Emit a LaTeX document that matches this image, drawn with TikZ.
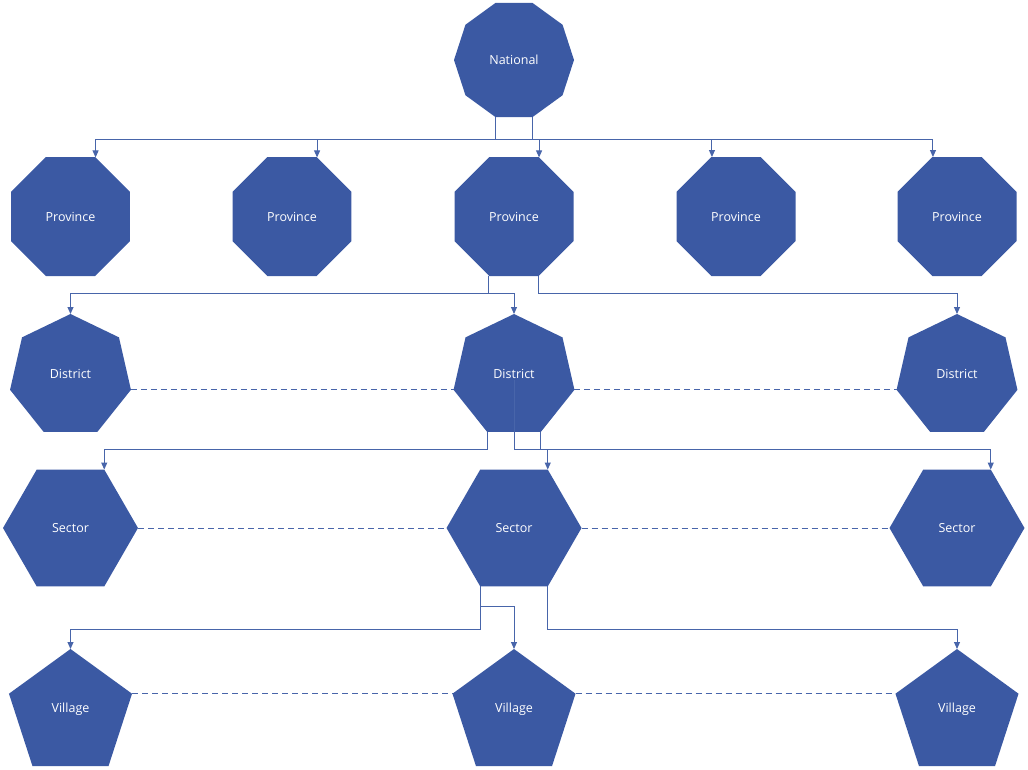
\documentclass[tikz,border=0pt]{standalone}
\usepackage{fontspec}
\setmainfont{Open Sans}
\usetikzlibrary{shapes.geometric,arrows.meta}

\definecolor{shapeblue}{RGB}{59,89,163}
\definecolor{linkblue}{RGB}{72,101,170}

\tikzset{
  unit/.style={regular polygon, fill=shapeblue, draw=none, inner sep=0pt,
    outer sep=0pt, text=white, font=\fontsize{12.5}{14}\selectfont},
  national/.style={unit, regular polygon sides=10, minimum size=120},
  province/.style={unit, regular polygon sides=8, minimum size=128.8},
  district/.style={unit, regular polygon sides=7, minimum size=124},
  sector/.style={unit, regular polygon sides=6, minimum size=135},
  village/.style={unit, regular polygon sides=5, minimum size=129.4},
  conn/.style={draw=linkblue, line width=1pt, -{Triangle[length=7pt,width=6pt]}},
  peer/.style={draw=linkblue, line width=1pt, dash pattern=on 6pt off 4pt},
}

\begin{document}
\begin{tikzpicture}[x=1pt, y=-1pt]
\useasboundingbox (0,0) rectangle (1028,769);

% levels of the hierarchy
\node[national] (nat) at (514,60) {National};

\node[province] (p1) at (70.5,216.5) {Province};
\node[province] (p2) at (292,216.5) {Province};
\node[province] (p3) at (514,216.5) {Province};
\node[province] (p4) at (736,216.5) {Province};
\node[province] (p5) at (957,216.5) {Province};

% labels of odd-sided shapes sit at the middle of their height
\node[district] (d1) at (70.5,376) {\raisebox{5pt}{District}};
\node[district] (d2) at (514,376) {\raisebox{5pt}{District}};
\node[district] (d3) at (957,376) {\raisebox{5pt}{District}};

\node[sector] (s1) at (70.5,528) {Sector};
\node[sector] (s2) at (514,528) {Sector};
\node[sector] (s3) at (957,528) {Sector};

\node[village] (v1) at (70.5,713.7) {\raisebox{11pt}{Village}};
\node[village] (v2) at (514,713.7) {\raisebox{11pt}{Village}};
\node[village] (v3) at (957,713.7) {\raisebox{11pt}{Village}};

% national to provinces
\draw[conn] (nat.252) -- ++(0,22) -| (p1.67.5);
\draw[conn] (nat.252) -- ++(0,22) -| (p2.67.5);
\draw[conn] (nat.252) -- ++(0,22) -| (p3.67.5);
\draw[conn] (nat.288) -- ++(0,22) -| (p4.112.5);
\draw[conn] (nat.288) -- ++(0,22) -| (p5.112.5);

% province to districts
\draw[conn] (p3.247.5) -- ++(0,18) -| (d1.corner 1);
\draw[conn] (p3.247.5) -- ++(0,18) -| (d2.corner 1);
\draw[conn] (p3.292.5) -- ++(0,18) -| (d3.corner 1);

% district to sectors
\path (d2.corner 4) ++(0,18) coordinate (dbus);
\draw[conn] (d2.corner 4) -- (dbus) -| (s1.60);
\draw[conn] ([yshift=-4pt]d2.center) -- (d2.center |- dbus) -| (s2.60);
\draw[conn] (d2.corner 5) -- ++(0,18) -| (s3.60);

% sector to villages
\draw[conn] (s2.240) -- ++(0,43.5) -| (v1.corner 1);
\draw[conn] (s2.240) -- ++(0,20.5) -| (v2.corner 1);
\draw[conn] (s2.300) -- ++(0,43.5) -| (v3.corner 1);

% peer links within a level
\draw[peer] (d1.corner 6) -- (d2.corner 3);
\draw[peer] (d2.corner 6) -- (d3.corner 3);
\draw[peer] (s1.east) -- (s2.west);
\draw[peer] (s2.east) -- (s3.west);
\draw[peer] (v1.corner 5) -- (v2.corner 2);
\draw[peer] (v2.corner 5) -- (v3.corner 2);
\end{tikzpicture}
\end{document}
